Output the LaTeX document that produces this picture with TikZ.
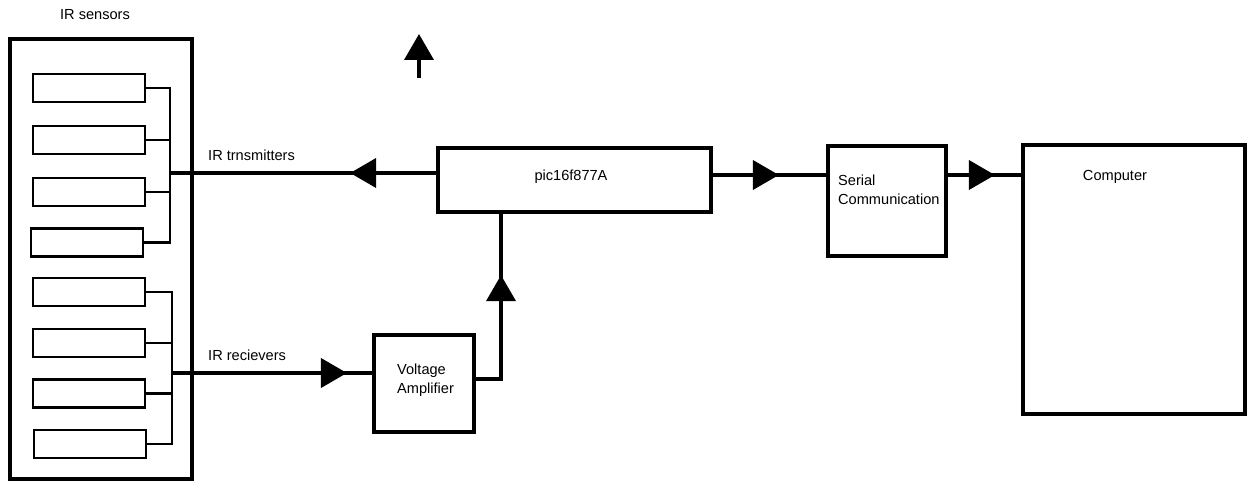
\documentclass[tikz,border=0pt]{standalone}
\usepackage{fontspec}
\setmainfont{Liberation Sans}
\usetikzlibrary{arrows.meta, positioning, calc, decorations.markings}

\begin{document}
\begin{tikzpicture}[x=0.02cm, y=-0.02cm,
    every node/.style={font=\fontsize{8.3}{10.5}\selectfont},
    blk/.style={draw, line width=2.2pt, inner sep=0pt},
    sens/.style={draw, line width=1.6pt, minimum width=2.24cm, minimum height=0.56cm, inner sep=0pt},
    wire/.style={line width=2.2pt},
    thinw/.style={line width=1.6pt},
    tip/.style={-{Triangle[length=0.52cm, width=0.58cm]}, line width=2.2pt},
    midarr/.style={postaction={decorate}, decoration={markings,
        mark=at position #1 with {\arrow{Triangle[length=0.52cm, width=0.58cm]}}}},
]
\useasboundingbox (0,0) rectangle (1249,483);

% sensor housing
\node at (95,15) (title) {IR sensors};
\node[blk, minimum width=3.64cm, minimum height=8.8cm] at (101,259) (board) {};
\node[sens] at (89,88) (s1) {};
\node[sens] at (89,140) (s2) {};
\node[sens] at (89,192) (s3) {};
\node[sens] at (87,242.5) (s4) {};
\node[sens] at (89,292) (s5) {};
\node[sens] at (89,343) (s6) {};
\node[sens] at (89,393.5) (s7) {};
\node[sens] at (90,444) (s8) {};
\coordinate (txbus) at (170,173);
\coordinate (rxbus) at (172,373);

% main blocks
\node[blk, minimum width=5.46cm, minimum height=1.28cm] at (574.5,180) (pic) {};
\node at (571,177) (pictext) {pic16f877A};
\node[blk, minimum width=2cm, minimum height=1.94cm] at (424,383.5) (amp) {};
\node[align=left, anchor=north west] at (391,358) (amptext) {Voltage\\Amplifier};
\node[blk, minimum width=2.36cm, minimum height=2.2cm] at (887,201) (ser) {};
\node[align=left, anchor=north west] at (832,169) (sertext) {Serial\\Communication};
\node[blk, minimum width=4.44cm, minimum height=5.38cm] at (1134,279.5) (comp) {};
\node at (1115,177) (comptext) {Computer};

% sensor wiring
\draw[thinw] (s1.east) -| (s4.east -| txbus) -- (s4.east);
\draw[thinw] (s2.east) -- (s2.east -| txbus);
\draw[thinw] (s3.east) -- (s3.east -| txbus);
\draw[thinw] (s5.east) -| (s8.east -| rxbus) -- (s8.east);
\draw[thinw] (s6.east) -- (s6.east -| rxbus);
\draw[thinw] (s7.east) -- (s7.east -| rxbus);

% signal lines
\draw[wire, midarr=1.72cm] ([yshift=0.14cm]pic.west) -- (txbus);
\node[anchor=west] at (202,155) (txtext) {IR trnsmitters};
\draw[wire, midarr=3.5cm] (rxbus) -- (rxbus -| amp.west);
\node[anchor=west] at (202,355) (rxtext) {IR recievers};
\draw[wire, midarr=2.58cm] ([yshift=0.09cm]amp.east) -| ([xshift=-1.47cm]pic.south);
\draw[wire, midarr=1.32cm] ([yshift=0.1cm]pic.east) -- ([yshift=0.1cm]pic.east -| ser.west);
\draw[wire, midarr=0.94cm] ([yshift=0.52cm]ser.east) -- ([yshift=0.52cm]ser.east -| comp.west);

% loose arrow
\coordinate (up0) at (419,78);
\coordinate (up1) at (419,34);
\draw[tip] (up0) -- (up1);

\end{tikzpicture}
\end{document}
